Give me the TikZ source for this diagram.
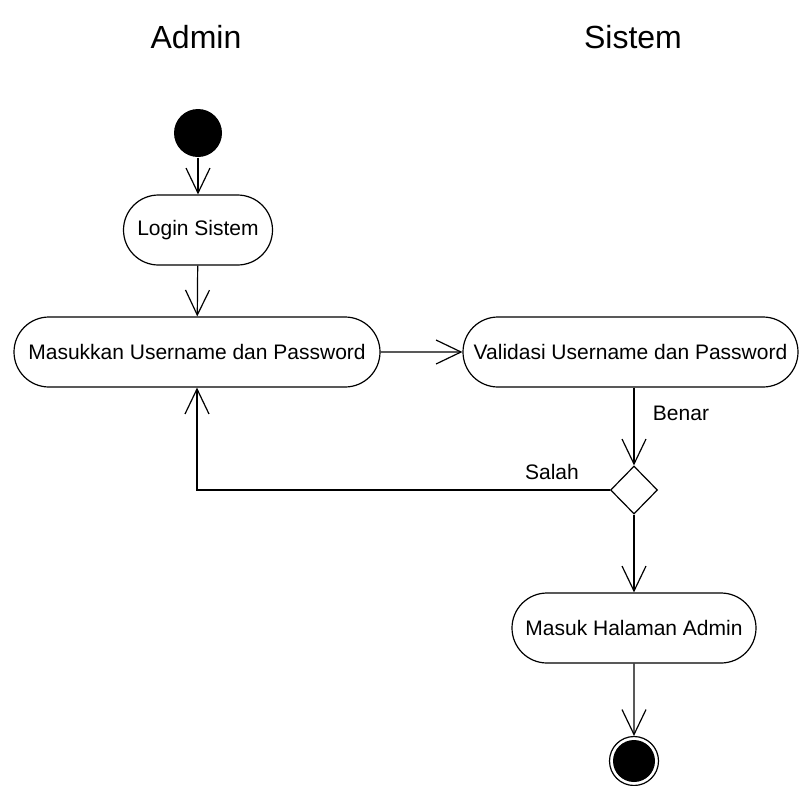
\documentclass[tikz,border=0pt]{standalone}
\usepackage{fontspec}
\setmainfont{Liberation Sans}
\usetikzlibrary{arrows.meta,shapes.geometric,shapes.misc}
\tikzset{>={Straight Barb[length=25pt,width=24pt]}}

\begin{document}
\begin{tikzpicture}[x=1pt,y=-1pt,line width=1.2pt,
    activity/.style={draw,rounded rectangle,minimum height=70pt,inner sep=0pt,
      font=\fontsize{21}{24}\selectfont},
    lane/.style={font=\fontsize{32}{36}\selectfont},
    guard/.style={font=\fontsize{21}{25}\selectfont,inner sep=0pt}]
  \useasboundingbox (0,0) rectangle (800,785);
  \node[lane] (admin) at (196,37) {Admin}; % swimlane titles
  \node[lane] (sistem) at (633,37) {Sistem};
  \node[circle,fill,minimum size=48pt,inner sep=0pt] (start) at (198,133) {}; % initial node
  \node[activity,minimum width=149pt] (login) at (198,230) {Login Sistem};
  \node[activity,minimum width=366pt] (input) at (197,352) {Masukkan Username dan Password};
  \node[activity,minimum width=335pt] (valid) at (630.5,352) {Validasi Username dan Password};
  \node[diamond,draw,minimum width=47pt,minimum height=48pt,inner sep=0pt] (cek) at (634,490) {}; % decision
  \node[activity,minimum width=244pt] (home) at (634,628) {Masuk Halaman Admin};
  \node[circle,draw,minimum size=49pt,inner sep=0pt] (end) at (634,761) {}; % final node
  \fill (end.center) circle (21pt);
  \node[guard] (benar) at (681,413) {Benar}; % guards
  \node[guard] (salah) at (552,472) {Salah};
  \draw[->] (start) -- (login);
  \draw[->] (login) -- (input);
  \draw[->] (input) -- (valid);
  \draw[->] (cek|-valid.south) -- (cek.north);
  \draw[->] (cek.west) -| (input.south);
  \draw[->] (cek) -- (home);
  \draw[->] (home) -- (end);
\end{tikzpicture}
\end{document}
